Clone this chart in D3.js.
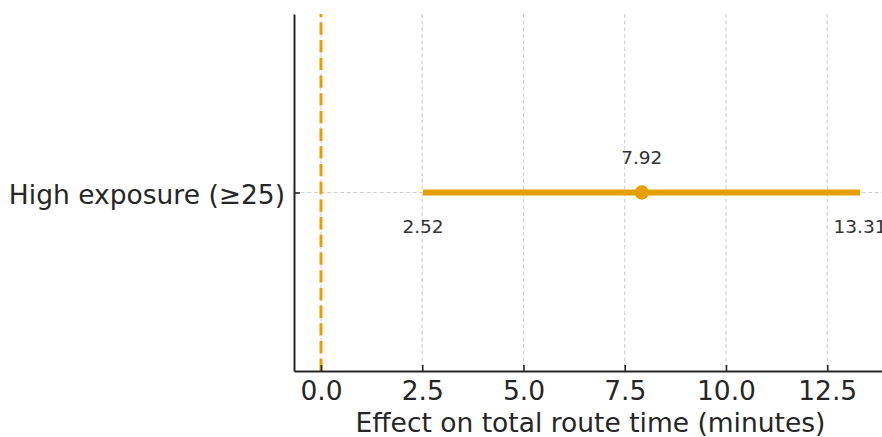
<!DOCTYPE html>
<html>
<head>
<meta charset="utf-8">
<script src="https://cdn.jsdelivr.net/npm/d3@7"></script>
<style>
  html, body { margin: 0; padding: 0; background: #fff; }
  svg { display: block; font-family: "DejaVu Sans", sans-serif; }
</style>
</head>
<body>
<svg id="chart" width="882" height="437"></svg>
<script>
// Effect estimate with 95% confidence interval
const categories = ["High exposure (≥25)"];
const estimates = [7.92];
const lowerCI = [2.52];
const upperCI = [13.31];
const xTicks = [0, 2.5, 5, 7.5, 10, 12.5];
const xTitle = "Effect on total route time (minutes)";

const W = 882, H = 437;
const plot = { left: 294, top: 14, bottom: 371, right: 887 };
const orange = "#E69F00";
const ink = "#262626";
const fontFamily = "'DejaVu Sans', sans-serif";
const bigFont = 26.5;
const smallFont = 18.5;

const svg = d3.select("#chart");

const x = d3.scaleLinear().domain([-0.666, 13.976]).range([plot.left, plot.right]);
const y = d3.scalePoint().domain(categories).range([plot.bottom, plot.top]).padding(0.5);

// Grid
const grid = svg.append("g");
grid.selectAll("line.vg").data(xTicks).join("line")
  .attr("x1", d => x(d)).attr("x2", d => x(d))
  .attr("y1", plot.top).attr("y2", plot.bottom)
  .attr("stroke", "#cfcfcf").attr("stroke-width", 1.1)
  .attr("stroke-dasharray", "4,2.6");
grid.selectAll("line.hg").data(categories).join("line")
  .attr("x1", plot.left).attr("x2", W)
  .attr("y1", d => y(d)).attr("y2", d => y(d))
  .attr("stroke", "#cfcfcf").attr("stroke-width", 1.1)
  .attr("stroke-dasharray", "4,2.6");

// Confidence intervals
const rows = categories.map((c, i) => ({ c, est: estimates[i], lo: lowerCI[i], hi: upperCI[i] }));
svg.append("g").selectAll("line").data(rows).join("line")
  .attr("x1", d => x(d.lo)).attr("x2", d => x(d.hi))
  .attr("y1", d => y(d.c)).attr("y2", d => y(d.c))
  .attr("stroke", orange).attr("stroke-width", 6);

// Reference line at zero (drawn upward from the bottom)
svg.append("line")
  .attr("x1", x(0)).attr("x2", x(0))
  .attr("y1", plot.bottom).attr("y2", plot.top)
  .attr("stroke", orange).attr("stroke-width", 3)
  .attr("stroke-dasharray", "12.3,5.4");

// Point estimates
svg.append("g").selectAll("circle").data(rows).join("circle")
  .attr("cx", d => x(d.est)).attr("cy", d => y(d.c))
  .attr("r", 7.2).attr("fill", orange);

// Value labels
const lab = svg.append("g").attr("font-size", smallFont).attr("fill", "#333")
  .attr("font-family", fontFamily).attr("text-anchor", "middle");
rows.forEach(d => {
  lab.append("text").attr("x", x(d.est)).attr("y", y(d.c) - 29).text(d.est.toFixed(2));
  lab.append("text").attr("x", x(d.lo)).attr("y", y(d.c) + 40).text(d.lo.toFixed(2));
  lab.append("text").attr("x", x(d.hi)).attr("y", y(d.c) + 40).text(d.hi.toFixed(2));
});

// Axes
const xAxis = d3.axisBottom(x).tickValues(xTicks).tickFormat(d3.format(".1f"))
  .tickSizeInner(-6).tickSizeOuter(0).tickPadding(10);
const gx = svg.append("g").attr("transform", `translate(0,${plot.bottom})`).call(xAxis);
gx.attr("font-family", fontFamily);
gx.select(".domain").attr("stroke", ink).attr("stroke-width", 2);
gx.selectAll(".tick line").attr("stroke", ink).attr("stroke-width", 1.6);
gx.selectAll(".tick text").attr("font-size", bigFont).attr("fill", ink);

const yAxis = d3.axisLeft(y).tickSizeInner(-6).tickSizeOuter(0).tickPadding(9);
const gy = svg.append("g").attr("transform", `translate(${plot.left},0)`).call(yAxis);
gy.attr("font-family", fontFamily);
gy.select(".domain").attr("stroke", ink).attr("stroke-width", 2);
gy.selectAll(".tick line").attr("stroke", ink).attr("stroke-width", 1.6);
gy.selectAll(".tick text").attr("font-size", bigFont).attr("fill", ink).attr("dy", "0.4em");

svg.append("text")
  .attr("x", (plot.left + plot.right) / 2).attr("y", 432)
  .attr("text-anchor", "middle").attr("font-size", bigFont).attr("fill", ink)
  .attr("font-family", fontFamily)
  .text(xTitle);
</script>
</body>
</html>
